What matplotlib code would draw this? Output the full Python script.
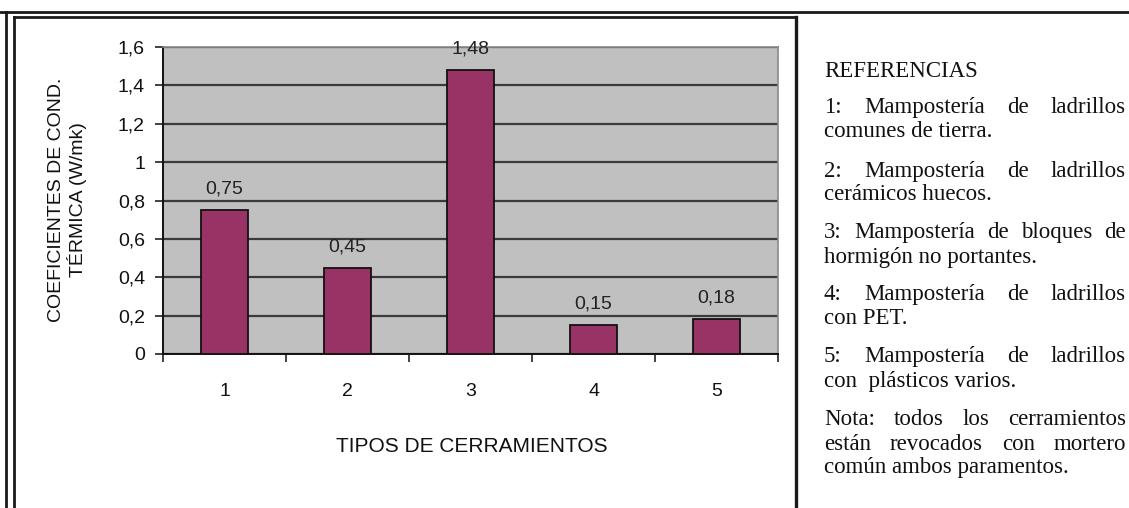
import matplotlib
matplotlib.use("Agg")
import matplotlib.pyplot as plt
from matplotlib.lines import Line2D
from matplotlib.ticker import FixedLocator, NullFormatter

# Thermal conductivity by wall type
categories = ["1", "2", "3", "4", "5"]
conductivity = [0.75, 0.45, 1.48, 0.15, 0.18]
y_ticks = [0, 0.2, 0.4, 0.6, 0.8, 1.0, 1.2, 1.4, 1.6]
y_tick_labels = ["0", "0,2", "0,4", "0,6", "0,8", "1", "1,2", "1,4", "1,6"]
value_labels = ["0,75", "0,45", "1,48", "0,15", "0,18"]

x_title = "TIPOS DE CERRAMIENTOS"
y_title_lines = ["COEFICIENTES DE COND.", "TÉRMICA (W/mk)"]

refs_title = "REFERENCIAS"
# each paragraph: (justified lines, final left-aligned line)
refs = [
    (["1: Mampostería de ladrillos"], "comunes de tierra."),
    (["2: Mampostería de ladrillos"], "cerámicos huecos."),
    (["3: Mampostería de bloques de"], "hormigón no portantes."),
    (["4: Mampostería de ladrillos"], "con PET."),
    (["5: Mampostería de ladrillos"], "con  plásticos varios."),
    (["Nota: todos los cerramientos", "están revocados con mortero"], "común ambos paramentos."),
]

W, H = 1129, 508
DPI = 100
fig = plt.figure(figsize=(W / DPI, H / DPI), dpi=DPI)
fig.patch.set_facecolor("white")

SANS = "Liberation Sans"
SANS_SIZE = 14


def px(x, y):
    return x / W, 1 - y / H


# plot area in pixel coordinates
ax_l, ax_r, ax_t, ax_b = 163, 778, 47, 354
ax = fig.add_axes([ax_l / W, 1 - ax_b / H, (ax_r - ax_l) / W, (ax_b - ax_t) / H])
ax.set_facecolor("#C0C0C0")

xpos = list(range(len(categories)))
ax.bar(xpos, conductivity, width=0.39, color="#993366", edgecolor="#111111",
       linewidth=1.3, zorder=3)

ax.set_xlim(-0.5, len(categories) - 0.5)
ax.set_ylim(0, 1.6)
ax.set_yticks(y_ticks)
ax.set_yticklabels(y_tick_labels)
ax.yaxis.grid(True, color="#3a3a3a", linewidth=1.6, zorder=1)
ax.set_axisbelow(True)

# category labels centred, tick marks on category boundaries
ax.set_xticks(xpos)
ax.set_xticklabels(categories)
ax.tick_params(axis="x", length=0, pad=21)
ax.xaxis.set_minor_locator(FixedLocator([i - 0.5 for i in range(len(categories) + 1)]))
ax.xaxis.set_minor_formatter(NullFormatter())
ax.tick_params(axis="x", which="minor", length=6, width=1.2, direction="out", color="#222222")
ax.tick_params(axis="y", length=6, width=1.2, direction="out", color="#222222", pad=7)

for lab in ax.get_xticklabels() + ax.get_yticklabels():
    lab.set_fontfamily(SANS)
    lab.set_fontsize(SANS_SIZE)
    lab.set_color("#111111")

for side in ["top", "right"]:
    ax.spines[side].set_color("#8a8a8a")
    ax.spines[side].set_linewidth(1.2)
for side in ["left", "bottom"]:
    ax.spines[side].set_color("#111111")
    ax.spines[side].set_linewidth(1.4)

for x, v, lab in zip(xpos, conductivity, value_labels):
    ax.annotate(lab, (x, v), xytext=(0, 9), textcoords="offset points",
                ha="center", va="bottom", fontsize=SANS_SIZE,
                family=SANS, color="#222222", zorder=4)

fig.text(*px(472, 446), x_title, ha="center", va="center",
         fontsize=SANS_SIZE + 1, family=SANS, color="#111111")
for xc, line in zip([57, 77], y_title_lines):
    fig.text(*px(xc, 200), line, ha="center", va="center", rotation=90,
             fontsize=SANS_SIZE, family=SANS, color="#111111")

# frame lines
frame = [
    ((0, W), (12, 12), 2.0),
    ((6, 6), (12, H), 2.0),
    ((14, 14), (17, H), 2.0),
    ((14, 796), (17, 17), 2.0),
    ((796, 796), (17, H), 2.4),
]
for xs, ys, lw in frame:
    fig.add_artist(Line2D([xs[0] / W, xs[1] / W], [1 - ys[0] / H, 1 - ys[1] / H],
                          transform=fig.transFigure, color="#1a1a1a", linewidth=lw))

# reference notes, first lines justified
serif = dict(family="Liberation Serif", fontsize=16.5, color="#111111")
text_x0, text_x1 = 824, 1126
renderer = fig.canvas.get_renderer()


def justified(line, y):
    words = line.split()
    arts = [fig.text(0, 1 - y / H, w, ha="left", va="baseline", **serif) for w in words]
    widths = [a.get_window_extent(renderer).width for a in arts]
    gap = (text_x1 - text_x0 - sum(widths)) / (len(words) - 1)
    x = text_x0
    for a, w in zip(arts, widths):
        a.set_x(x / W)
        x += w + gap


fig.text(text_x0 / W, 1 - 77 / H, refs_title, ha="left", va="baseline", **serif)
y_lines = [
    (113, 137), (177, 200), (238, 263), (300, 324), (362, 387),
    (425, 450, 473),
]
for (full_lines, last), ys in zip(refs, y_lines):
    for line, y in zip(full_lines, ys[:-1]):
        justified(line, y)
    fig.text(text_x0 / W, 1 - ys[-1] / H, last, ha="left", va="baseline", **serif)

fig.savefig("out.png", dpi=DPI)
